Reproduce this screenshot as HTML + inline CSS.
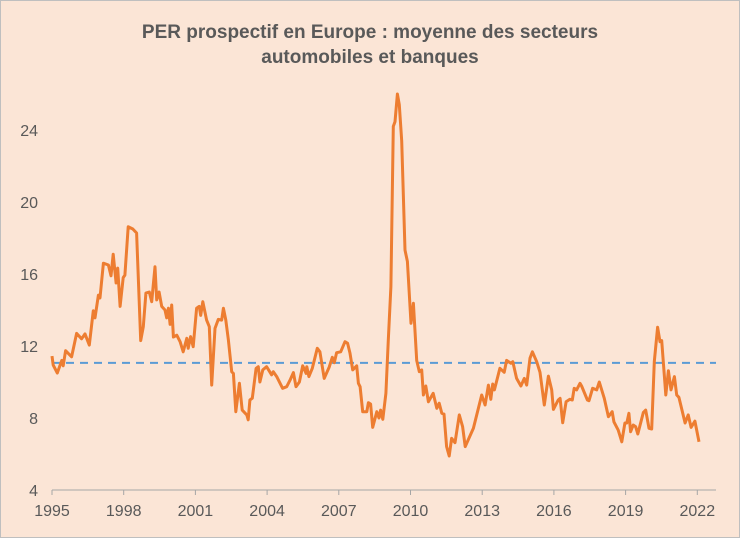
<!DOCTYPE html>
<html><head><meta charset="utf-8">
<style>
html,body{margin:0;padding:0;background:#fff;}
#chart{position:relative;width:740px;height:538px;}
svg text{font-family:"Liberation Sans",sans-serif;}
</style></head>
<body>
<div id="chart">
<svg id="svg" width="740" height="538" xmlns="http://www.w3.org/2000/svg">
<rect x="0.5" y="0.5" width="739" height="537" fill="#FBE5D6" stroke="#BFBFBF"/>
<text x="370" y="38" text-anchor="middle" font-size="19" font-weight="bold" fill="#595959">PER prospectif  en Europe : moyenne  des  secteurs</text>
<text x="370" y="63" text-anchor="middle" font-size="19" font-weight="bold" fill="#595959">automobiles  et banques</text>
<g id="yaxis"></g>
<g id="xaxis"></g>
<g id="marks"></g>
</svg>
</div>
<script>
const years=[1995.0,1995.05,1995.22,1995.41,1995.47,1995.57,1995.82,1996.03,1996.24,1996.38,1996.56,1996.73,1996.80,1996.94,1997.01,1997.15,1997.36,1997.47,1997.56,1997.68,1997.75,1997.85,1997.98,1998.05,1998.19,1998.38,1998.54,1998.71,1998.82,1998.93,1999.07,1999.17,1999.31,1999.38,1999.48,1999.59,1999.73,1999.80,1999.87,1999.94,2000.01,2000.08,2000.22,2000.36,2000.49,2000.64,2000.70,2000.80,2000.91,2001.05,2001.16,2001.22,2001.31,2001.47,2001.58,2001.68,2001.82,2001.96,2002.10,2002.17,2002.27,2002.38,2002.52,2002.59,2002.69,2002.84,2002.96,2003.15,2003.21,2003.28,2003.38,2003.54,2003.63,2003.70,2003.82,2003.98,2004.19,2004.26,2004.40,2004.65,2004.82,2004.96,2005.10,2005.21,2005.35,2005.49,2005.63,2005.66,2005.75,2005.89,2006.10,2006.21,2006.39,2006.60,2006.73,2006.81,2006.91,2007.08,2007.26,2007.37,2007.47,2007.58,2007.75,2007.82,2007.89,2008.00,2008.17,2008.24,2008.33,2008.42,2008.59,2008.68,2008.75,2008.84,2008.97,2009.07,2009.18,2009.28,2009.35,2009.45,2009.53,2009.63,2009.77,2009.87,2010.02,2010.12,2010.26,2010.37,2010.47,2010.54,2010.64,2010.75,2010.95,2011.10,2011.20,2011.31,2011.40,2011.51,2011.62,2011.72,2011.86,2012.04,2012.18,2012.29,2012.63,2012.98,2013.12,2013.26,2013.36,2013.44,2013.51,2013.74,2013.92,2014.02,2014.20,2014.28,2014.44,2014.62,2014.76,2014.86,2015.00,2015.10,2015.28,2015.42,2015.60,2015.77,2015.91,2015.98,2016.18,2016.26,2016.37,2016.51,2016.67,2016.77,2016.85,2016.95,2017.09,2017.16,2017.40,2017.47,2017.62,2017.79,2017.90,2018.11,2018.28,2018.44,2018.51,2018.69,2018.84,2018.97,2019.05,2019.14,2019.21,2019.32,2019.42,2019.51,2019.74,2019.84,2019.98,2020.09,2020.20,2020.34,2020.44,2020.51,2020.68,2020.79,2020.90,2021.04,2021.14,2021.23,2021.49,2021.62,2021.74,2021.90,2022.07];
const perValues=[11.44,10.94,10.5,11.2,10.9,11.74,11.4,12.7,12.4,12.67,12.05,13.96,13.56,14.83,14.67,16.6,16.5,15.9,17.1,15.5,16.33,14.2,15.8,15.94,18.63,18.5,18.28,12.3,13.07,14.94,15.0,14.46,16.4,14.56,15.0,14.2,14.0,13.56,14.1,13.2,14.28,12.5,12.6,12.24,11.68,12.43,11.87,12.52,11.96,14.1,14.2,13.7,14.46,13.44,13.07,9.83,12.98,13.48,13.44,14.1,13.44,12.33,10.57,10.48,8.35,9.93,8.44,8.17,7.9,9.0,9.1,10.76,10.85,10.0,10.67,10.85,10.4,10.57,10.3,9.65,9.74,10.1,10.52,9.74,10.0,10.9,10.48,10.85,10.3,10.76,11.87,11.68,10.2,10.83,11.37,11.07,11.63,11.68,12.24,12.15,11.6,10.67,10.9,9.93,9.74,8.35,8.35,8.85,8.78,7.48,8.35,8.0,8.44,7.93,9.37,12.33,15.3,24.2,24.46,26.0,25.4,23.4,17.33,16.7,13.26,14.37,11.2,10.57,10.67,9.28,9.78,8.9,9.37,8.54,8.82,8.26,8.22,6.41,5.89,6.87,6.63,8.17,7.52,6.41,7.43,9.28,8.72,9.83,9.04,9.89,9.56,10.76,10.54,11.2,11.04,11.13,10.2,9.78,10.2,9.83,11.32,11.68,11.13,10.54,8.72,10.33,9.56,8.48,9.0,9.09,7.74,8.9,9.04,9.0,9.65,9.56,9.93,9.78,9.0,8.96,9.65,9.56,10.0,9.09,8.07,8.35,7.79,7.33,6.68,7.72,7.72,8.26,7.24,7.61,7.52,7.11,8.3,8.44,7.43,7.39,11.13,13.04,12.24,12.3,9.28,10.63,9.56,10.3,9.28,9.15,7.72,8.17,7.48,7.83,6.68];
const averageValue=[11.06];
const yTicks=[4,8,12,16,20,24];
const xTicks=[1995,1998,2001,2004,2007,2010,2013,2016,2019,2022];

const NS="http://www.w3.org/2000/svg";
function xs(y){return 52+(y-1995)*23.9;}
function ys(v){return 490-(v-4)*18;}
function mk(tag,attrs,parent){const e=document.createElementNS(NS,tag);for(const k in attrs)e.setAttribute(k,attrs[k]);parent.appendChild(e);return e;}
const yaxis=document.getElementById('yaxis'),xaxis=document.getElementById('xaxis'),marks=document.getElementById('marks');
yTicks.forEach(t=>{
  const tx=mk('text',{x:38,y:ys(t)+6,'text-anchor':'end','font-size':16,fill:'#595959'},yaxis);
  tx.textContent=t;
  
  
});
const axl=mk('line',{x1:xs(1995),x2:716,y1:490,y2:490,stroke:'#A6A6A6','stroke-width':1},xaxis);


xTicks.forEach(t=>{
  const tk=mk('line',{x1:xs(t),x2:xs(t),y1:490,y2:495,stroke:'#A6A6A6'},xaxis);
  
  
  const tx=mk('text',{x:xs(t),y:516,'text-anchor':'middle','font-size':16,fill:'#595959'},xaxis);
  tx.textContent=t;
  
  
});
const avg=mk('line',{x1:xs(1995),x2:716,y1:ys(averageValue[0]),y2:ys(averageValue[0]),stroke:'#5B9BD5','stroke-width':2,'stroke-dasharray':'8,6'},marks);


const d=years.map((y,i)=>(i?'L':'M')+xs(y).toFixed(1)+','+ys(perValues[i]).toFixed(1)).join(' ');
const ln=mk('path',{d:d,fill:'none',stroke:'#ED7D31','stroke-width':3,'stroke-linejoin':'round'},marks);


</script>
</body></html>
